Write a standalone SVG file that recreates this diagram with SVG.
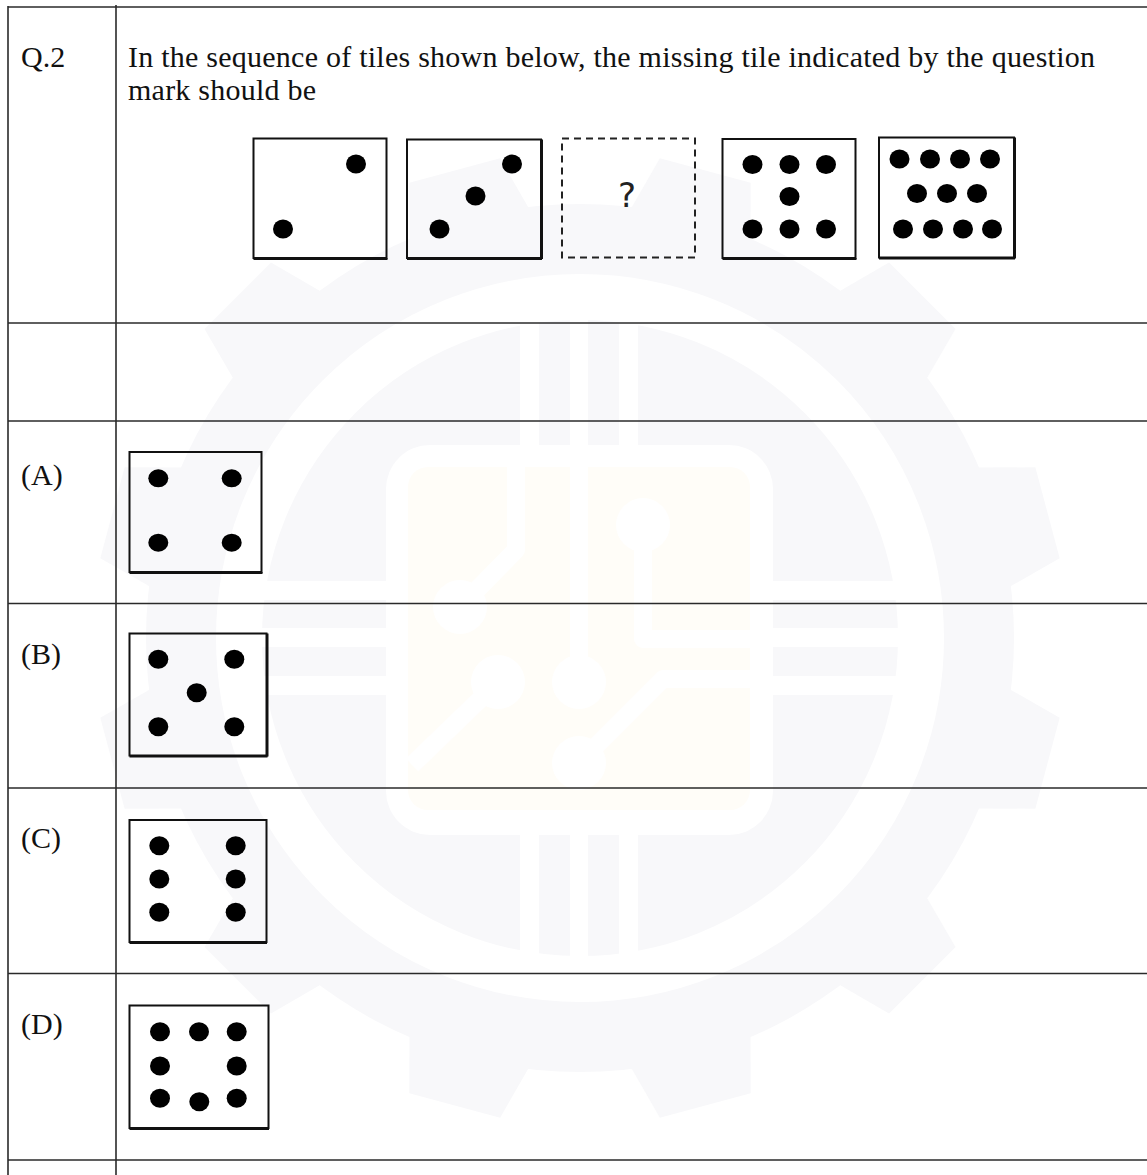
<svg xmlns="http://www.w3.org/2000/svg" width="1147" height="1175" viewBox="0 0 1147 1175">
<style>
.tl{stroke:#2a2a2a;stroke-width:1.6;fill:none}
.tile{fill:none;stroke:#111;stroke-width:2}
.sh{stroke:#111;stroke-width:2;fill:none}
.dash{fill:none;stroke:#222;stroke-width:2;stroke-dasharray:7 5}
.dot{fill:#000}
.txt{font-family:"Liberation Serif","Times New Roman",serif;font-size:30px;fill:#111}
.wm{fill:#f8f8fa}
.tr{stroke:#fff;stroke-width:18;fill:none;stroke-linejoin:round}
</style>
<defs>
<polygon id="tooth" points="420,-64 484,-47 484,47 420,64"/>
</defs>
<rect width="1147" height="1175" fill="#fff"/>
<g id="watermark">
<g transform="translate(580,638)" class="wm">
<circle r="434"/>
<use href="#tooth" transform="rotate(15)"/>
<use href="#tooth" transform="rotate(45)"/>
<use href="#tooth" transform="rotate(75)"/>
<use href="#tooth" transform="rotate(105)"/>
<use href="#tooth" transform="rotate(135)"/>
<use href="#tooth" transform="rotate(165)"/>
<use href="#tooth" transform="rotate(195)"/>
<use href="#tooth" transform="rotate(225)"/>
<use href="#tooth" transform="rotate(255)"/>
<use href="#tooth" transform="rotate(285)"/>
<use href="#tooth" transform="rotate(315)"/>
<use href="#tooth" transform="rotate(345)"/>
</g>
<circle cx="580" cy="638" r="341" fill="none" stroke="#fff" stroke-width="46"/>
<g fill="#fff">
<rect x="520" y="318" width="19" height="130"/>
<rect x="570" y="318" width="18" height="130"/>
<rect x="619" y="318" width="19" height="130"/>
<rect x="520" y="832" width="19" height="128"/>
<rect x="570" y="832" width="18" height="128"/>
<rect x="619" y="832" width="19" height="128"/>
<rect x="252" y="581" width="136" height="19"/>
<rect x="252" y="628" width="136" height="19"/>
<rect x="252" y="676" width="136" height="19"/>
<rect x="771" y="581" width="136" height="19"/>
<rect x="771" y="628" width="136" height="19"/>
<rect x="771" y="676" width="136" height="19"/>
<rect x="386" y="445" width="387" height="390" rx="44"/>
</g>
<rect x="408" y="467" width="342" height="343" rx="20" fill="#fffdf8"/>
<path class="tr" d="M516,467 V550 L460,607"/>
<path class="tr" d="M579,467 V682"/>
<path class="tr" d="M643,525 V639 H760"/>
<path class="tr" d="M498,682 L412,765"/>
<path class="tr" d="M579,763 L663,679 H760"/>
<g fill="#fff">
<circle cx="460" cy="607" r="27"/>
<circle cx="579" cy="682" r="27"/>
<circle cx="643" cy="525" r="27"/>
<circle cx="498" cy="682" r="27"/>
<circle cx="579" cy="763" r="27"/>
</g>
</g>
<g id="table">
<line class="tl" x1="8" y1="7" x2="1147" y2="7"/>
<line class="tl" x1="8" y1="323" x2="1147" y2="323"/>
<line class="tl" x1="8" y1="421" x2="1147" y2="421"/>
<line class="tl" x1="8" y1="603.5" x2="1147" y2="603.5"/>
<line class="tl" x1="8" y1="788" x2="1147" y2="788"/>
<line class="tl" x1="8" y1="973.5" x2="1147" y2="973.5"/>
<line class="tl" x1="8" y1="1160" x2="1147" y2="1160"/>
<line class="tl" x1="8" y1="6" x2="8" y2="1175"/>
<line class="tl" x1="116" y1="5" x2="116" y2="1175"/>
</g>
<g id="question">
<text class="txt" x="21" y="67">Q.2</text>
<text class="txt" x="128" y="67" textLength="967" lengthAdjust="spacing">In the sequence of tiles shown below, the missing tile indicated by the question</text>
<text class="txt" x="128" y="100" textLength="188" lengthAdjust="spacing">mark should be</text>
</g>
<g id="tile1">
<rect class="tile" x="253.5" y="138.5" width="133" height="119.5"/>
<line class="sh" x1="253.5" y1="259" x2="387.5" y2="259"/>
<ellipse class="dot" cx="356" cy="164" rx="10" ry="9.5"/>
<ellipse class="dot" cx="283" cy="229" rx="10" ry="9.5"/>
</g>
<g id="tile2">
<rect class="tile" x="407" y="139.5" width="134" height="118.5"/>
<line class="sh" x1="407" y1="259" x2="542" y2="259"/>
<line class="sh" x1="542" y1="139.5" x2="542" y2="259"/>
<ellipse class="dot" cx="512" cy="164" rx="10" ry="9.5"/>
<ellipse class="dot" cx="475.5" cy="196" rx="10" ry="9.5"/>
<ellipse class="dot" cx="439.5" cy="229" rx="10" ry="9.5"/>
</g>
<g id="tile3">
<rect class="dash" x="562" y="138.5" width="133" height="119"/>
<text x="627" y="207" text-anchor="middle" style="font-family:'DejaVu Sans','Liberation Sans',sans-serif;font-size:34px;fill:#222">?</text>
</g>
<g id="tile4">
<rect class="tile" x="722.5" y="139" width="133" height="119"/>
<line class="sh" x1="722.5" y1="259" x2="856.5" y2="259"/>
<ellipse class="dot" cx="752.5" cy="164.5" rx="10" ry="9.5"/>
<ellipse class="dot" cx="789.5" cy="164.5" rx="10" ry="9.5"/>
<ellipse class="dot" cx="826" cy="164.5" rx="10" ry="9.5"/>
<ellipse class="dot" cx="789.5" cy="196.5" rx="10" ry="9.5"/>
<ellipse class="dot" cx="752.5" cy="229" rx="10" ry="9.5"/>
<ellipse class="dot" cx="789.5" cy="229" rx="10" ry="9.5"/>
<ellipse class="dot" cx="826" cy="229" rx="10" ry="9.5"/>
</g>
<g id="tile5">
<rect class="tile" x="879" y="137.5" width="135" height="120"/>
<line class="sh" x1="879" y1="258.5" x2="1015" y2="258.5"/>
<line class="sh" x1="1015" y1="137.5" x2="1015" y2="258.5"/>
<ellipse class="dot" cx="899.5" cy="159" rx="10" ry="9.5"/>
<ellipse class="dot" cx="930" cy="159" rx="10" ry="9.5"/>
<ellipse class="dot" cx="960" cy="159" rx="10" ry="9.5"/>
<ellipse class="dot" cx="990" cy="159" rx="10" ry="9.5"/>
<ellipse class="dot" cx="917" cy="193.5" rx="10" ry="9.5"/>
<ellipse class="dot" cx="947" cy="193.5" rx="10" ry="9.5"/>
<ellipse class="dot" cx="977" cy="193.5" rx="10" ry="9.5"/>
<ellipse class="dot" cx="903" cy="229" rx="10" ry="9.5"/>
<ellipse class="dot" cx="933" cy="229" rx="10" ry="9.5"/>
<ellipse class="dot" cx="963" cy="229" rx="10" ry="9.5"/>
<ellipse class="dot" cx="992" cy="229" rx="10" ry="9.5"/>
</g>
<g id="optionA">
<text class="txt" x="21" y="485">(A)</text>
<rect class="tile" x="129.5" y="452" width="132" height="120"/>
<line class="sh" x1="129.5" y1="573" x2="262.5" y2="573"/>
<ellipse class="dot" cx="158.3" cy="478.3" rx="10" ry="9"/>
<ellipse class="dot" cx="231.7" cy="478.3" rx="10" ry="9"/>
<ellipse class="dot" cx="158.3" cy="542.7" rx="10" ry="9"/>
<ellipse class="dot" cx="231.7" cy="542.7" rx="10" ry="9"/>
</g>
<g id="optionB">
<text class="txt" x="21" y="664">(B)</text>
<rect class="tile" x="129.5" y="633.5" width="137" height="122"/>
<line class="sh" x1="129.5" y1="756.5" x2="267.5" y2="756.5"/>
<line class="sh" x1="267.5" y1="633.5" x2="267.5" y2="756.5"/>
<ellipse class="dot" cx="158.3" cy="659.3" rx="10" ry="9.5"/>
<ellipse class="dot" cx="234.3" cy="659.3" rx="10" ry="9.5"/>
<ellipse class="dot" cx="196.7" cy="692.7" rx="10" ry="9.5"/>
<ellipse class="dot" cx="158.3" cy="726.7" rx="10" ry="9.5"/>
<ellipse class="dot" cx="234.3" cy="726.7" rx="10" ry="9.5"/>
</g>
<g id="optionC">
<text class="txt" x="21" y="848">(C)</text>
<rect class="tile" x="129.5" y="820" width="137" height="122"/>
<line class="sh" x1="129.5" y1="943" x2="267" y2="943"/>
<ellipse class="dot" cx="159.3" cy="845.7" rx="10" ry="9.5"/>
<ellipse class="dot" cx="235.7" cy="845.7" rx="10" ry="9.5"/>
<ellipse class="dot" cx="159.3" cy="879" rx="10" ry="9.5"/>
<ellipse class="dot" cx="235.7" cy="879" rx="10" ry="9.5"/>
<ellipse class="dot" cx="159.3" cy="912.3" rx="10" ry="9.5"/>
<ellipse class="dot" cx="235.7" cy="912.3" rx="10" ry="9.5"/>
</g>
<g id="optionD">
<text class="txt" x="21" y="1034">(D)</text>
<rect class="tile" x="129.5" y="1005.5" width="139" height="122.5"/>
<line class="sh" x1="129.5" y1="1129" x2="269" y2="1129"/>
<ellipse class="dot" cx="160" cy="1031.7" rx="10" ry="9.5"/>
<ellipse class="dot" cx="199" cy="1031.7" rx="10" ry="9.5"/>
<ellipse class="dot" cx="236.7" cy="1031.7" rx="10" ry="9.5"/>
<ellipse class="dot" cx="160" cy="1066" rx="10" ry="9.5"/>
<ellipse class="dot" cx="236.7" cy="1066" rx="10" ry="9.5"/>
<ellipse class="dot" cx="160" cy="1098.3" rx="10" ry="9.5"/>
<ellipse class="dot" cx="199.3" cy="1101.7" rx="10" ry="9.5"/>
<ellipse class="dot" cx="236.7" cy="1098.3" rx="10" ry="9.5"/>
</g>
</svg>
